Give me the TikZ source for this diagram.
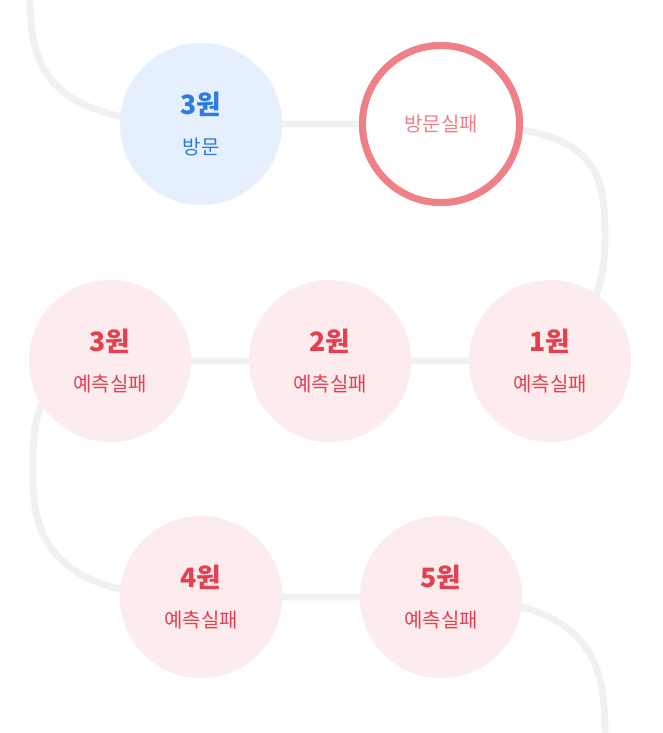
\documentclass[tikz,border=0pt]{standalone}
\usepackage{fontspec}
\newfontfamily\kr{Noto Sans CJK KR}
\definecolor{track}{HTML}{EEF2F2}
\definecolor{bluefill}{HTML}{E6F0FD}
\definecolor{bluetext}{HTML}{2E7CE0}
\definecolor{pinkfill}{HTML}{FDECEE}
\definecolor{redtext}{HTML}{E5404F}
\definecolor{ring}{HTML}{F08088}
\tikzset{
  trk/.style={draw=track,line width=5.2pt},
  circ/.style={circle,minimum size={162*0.75pt},inner sep=0pt,align=center,font=\kr},
  fail/.style={circ,fill=pinkfill,text=redtext},
  visit/.style={circ,fill=bluefill,text=bluetext},
  ringc/.style={circ,fill=white,draw=ring,line width=5.2pt,minimum size={157*0.75pt},text=ring},
}
\newcommand{\num}[1]{{\fontsize{20pt}{22pt}\selectfont\bfseries #1}}
\newcommand{\lab}[1]{{\fontsize{15pt}{18pt}\selectfont #1}}
\begin{document}
\begin{tikzpicture}[x=0.75pt,y=-0.75pt]
\useasboundingbox (0,0) rectangle (662,733);
\coordinate (s) at (30,0);
\coordinate (e) at (605,733);
\node[visit] (v3) at (201,124) {};
\node[ringc] (vf) at (441,124) {};
\node[fail] (p1) at (550,361) {};
\node[fail] (p2) at (330,361) {};
\node[fail] (p3) at (110,361) {};
\node[fail] (p4) at (201,597) {};
\node[fail] (p5) at (441,597) {};
% track
\draw[trk] (s) .. controls (30,80) and (60,122) .. (v3.center) -- (vf.center)
  .. controls (600,124) and (605,170) .. (605,240) .. controls (605,300) and (580,330) .. (p1.center)
  -- (p3.center) .. controls (30,380) and (33,420) .. (33,480) .. controls (33,560) and (80,597) .. (p4.center)
  -- (p5.center) .. controls (590,600) and (605,660) .. (e);
% circles on top
\node[visit] at (v3) {\num{3원}\\[15pt]\lab{방문}};
\node[ringc] at (vf) {\lab{방문실패}};
\node[fail] at (p1) {\num{1원}\\[15pt]\lab{예측실패}};
\node[fail] at (p2) {\num{2원}\\[15pt]\lab{예측실패}};
\node[fail] at (p3) {\num{3원}\\[15pt]\lab{예측실패}};
\node[fail] at (p4) {\num{4원}\\[15pt]\lab{예측실패}};
\node[fail] at (p5) {\num{5원}\\[15pt]\lab{예측실패}};
\end{tikzpicture}
\end{document}
